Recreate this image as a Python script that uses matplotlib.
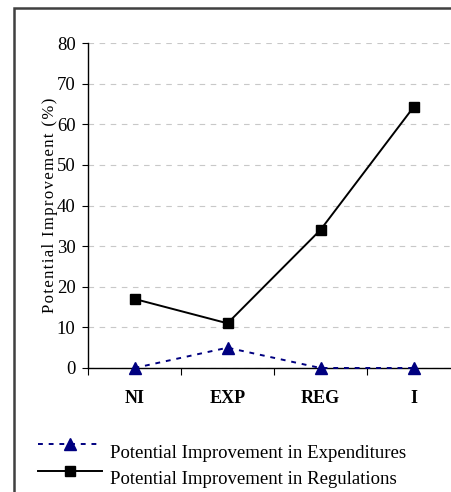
import matplotlib
matplotlib.use("Agg")
import matplotlib.pyplot as plt
from matplotlib.lines import Line2D
from matplotlib.patches import Rectangle

categories = ["NI", "EXP", "REG", "I"]
expenditures = [0, 5, 0, 0]
regulations = [17, 11, 34, 64.2]
yticks = [0, 10, 20, 30, 40, 50, 60, 70, 80]
legend_labels = ["Potential Improvement in Expenditures", "Potential Improvement in Regulations"]

plt.rcParams['font.family'] = ['Liberation Serif', 'DejaVu Serif']

W, H = 451, 492
fig = plt.figure(figsize=(W/100, H/100), dpi=100)

# outer frame
fig.patches.append(Rectangle((14/W, -0.05), 1.2, 1 - 8/H + 0.05, transform=fig.transFigure,
                             fill=False, edgecolor='#404040', linewidth=1.8))

left, right = 88, 460
bottom, top = 368, 43
ax = fig.add_axes([left/W, 1 - bottom/H, (right-left)/W, (bottom-top)/H])
ax.set_xlim(-0.5, 3.5)
ax.set_ylim(0, 80)
x = list(range(len(categories)))

exp_style = dict(color='#000080', linewidth=1.4, linestyle=(0, (2.5, 3)), marker='^', markersize=9)
reg_style = dict(color='black', linewidth=1.4, marker='s', markersize=7)
ax.plot(x, regulations, zorder=3, clip_on=False, **reg_style)
ax.plot(x, expenditures, zorder=3, clip_on=False, **exp_style)

for s in ['top', 'right']:
    ax.spines[s].set_visible(False)
for s in ['left', 'bottom']:
    ax.spines[s].set_linewidth(1.0)
ax.set_yticks(yticks)
ax.set_yticklabels([str(v) for v in yticks], fontsize=13.5)
ax.yaxis.grid(True, color='#c8c8c8', linestyle=(0, (5, 5)), linewidth=0.8)
ax.set_axisbelow(True)
ax.set_xticks([-0.5, 0.5, 1.5, 2.5], minor=False)
ax.set_xticklabels([])
ax.set_xticks(x, minor=True)
ax.set_xticklabels(categories, minor=True, fontsize=13, fontweight='bold')
ax.tick_params(axis='x', which='major', length=5, direction='out')
ax.tick_params(axis='x', which='minor', length=0, pad=16)
ax.tick_params(axis='y', length=4, direction='out', pad=5)

label = "\u200a".join("Potential Improvement (%)")
ax.set_ylabel(label, fontsize=12)
ax.yaxis.set_label_coords(-0.08, 0.5)

# legend drawn manually in figure coordinates
def fy(py):
    return 1 - py / H

rows = [(444, 453, exp_style), (471, 480, reg_style)]
for (ly, ty, st), text in zip(rows, legend_labels):
    st2 = dict(st)
    mk = st2.pop('marker'); ms = st2.pop('markersize')
    fig.add_artist(Line2D([38/W, 102/W], [fy(ly), fy(ly)], transform=fig.transFigure, **st2))
    fig.add_artist(Line2D([70/W], [fy(ly)], transform=fig.transFigure, color=st['color'],
                          marker=mk, markersize=ms, linestyle='none'))
    fig.text(110/W, fy(ty), text, fontsize=13.5, va='center', ha='left')

fig.savefig("out.png", dpi=100)
